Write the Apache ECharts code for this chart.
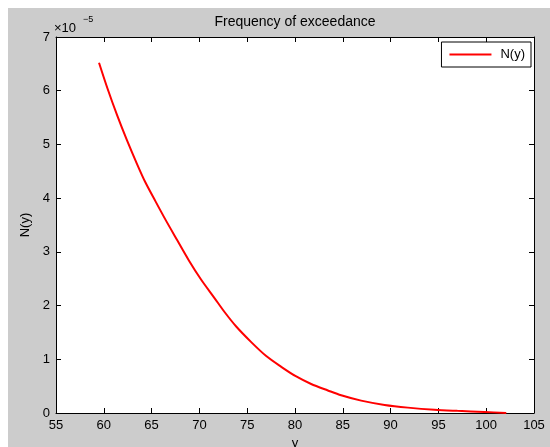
<!DOCTYPE html>
<html><head><meta charset="utf-8">
<script src="https://cdn.jsdelivr.net/npm/echarts@6/dist/echarts.min.js"></script>
<style>
html,body{margin:0;padding:0;background:#ffffff;width:550px;height:447px;overflow:hidden}
#c{position:absolute;left:8px;top:8px;width:542px;height:439px;background:#cccccc}
</style>
</head><body><div id="c"></div>
<script>
// Data (y-values in units of 1e-5)
const titleText = 'Frequency of exceedance';
const seriesName = 'N(y)';
const xAxisName = 'y';
const yAxisName = 'N(y)';
const yExponent = '−5';
const xTickLabels = [55, 60, 65, 70, 75, 80, 85, 90, 95, 100, 105];
const yTickLabels = [0, 1, 2, 3, 4, 5, 6, 7];
const yValuesX = [59.5, 60.35, 61.4, 62.44, 63.49, 64.36, 65.41, 66.45, 67.67, 68.9, 70.19, 71.58, 72.63, 73.85, 75.42, 76.99, 78.56, 80.13, 81.69, 83.44, 84.83, 86.92, 89.37, 91.81, 94.6, 96.98, 99.82, 102.1];
const nValues  = [6.52, 6.06, 5.54, 5.07, 4.63, 4.29, 3.94, 3.60, 3.22, 2.84, 2.48, 2.14, 1.88, 1.61, 1.32, 1.06, 0.86, 0.68, 0.54, 0.42, 0.33, 0.23, 0.15, 0.10, 0.06, 0.04, 0.02, 0.0];

const FONT = 'Liberation Sans';
const xMin = xTickLabels[0], xMax = xTickLabels[xTickLabels.length - 1], xInt = xTickLabels[1] - xTickLabels[0];
const yMin = yTickLabels[0], yMax = yTickLabels[yTickLabels.length - 1], yInt = yTickLabels[1] - yTickLabels[0];

const chart = echarts.init(document.getElementById('c'), null, {renderer: 'canvas'});
const axisCommon = {
  axisLine: {show: true, onZero: false, lineStyle: {color: '#000', width: 1}},
  axisTick: {show: true, inside: true, length: 5, lineStyle: {color: '#000'}},
  splitLine: {show: false}
};
chart.setOption({
  animation: false,
  backgroundColor: '#cccccc',
  textStyle: {fontFamily: FONT},
  grid: {left: 48, top: 29, right: 16, bottom: 34, show: true, backgroundColor: '#ffffff', borderWidth: 0,
         containLabel: false, outerBoundsMode: 'none'},
  graphic: [
    {type: 'text', x: 287, y: 14, style: {text: titleText, fontFamily: FONT, fontSize: 14, fill: '#000', textAlign: 'center', textVerticalAlign: 'middle'}},
    {type: 'text', x: 46, y: 20, style: {text: '×10', fontFamily: FONT, fontSize: 13, fill: '#000', textAlign: 'left', textVerticalAlign: 'middle'}},
    {type: 'text', x: 75, y: 12, style: {text: yExponent, fontFamily: FONT, fontSize: 9, fill: '#000', textAlign: 'left', textVerticalAlign: 'middle'}}
  ],
  legend: {
    data: [{name: seriesName, icon: 'rect'}], right: 19, top: 34, orient: 'horizontal',
    backgroundColor: '#ffffff', borderColor: '#000', borderWidth: 1, borderRadius: 0,
    padding: [6, 6, 6, 8], itemWidth: 42, itemHeight: 2, itemGap: 5,
    textStyle: {fontFamily: FONT, fontSize: 13, color: '#000', padding: [0, 0, 0, 4]}
  },
  xAxis: [
    Object.assign({type: 'value', position: 'bottom', min: xMin, max: xMax, interval: xInt,
      name: xAxisName, nameLocation: 'middle', nameGap: 22,
      nameTextStyle: {fontFamily: FONT, fontSize: 13, color: '#000'},
      axisLabel: {show: true, margin: 6, fontFamily: FONT, fontSize: 13, color: '#000'}}, axisCommon),
    Object.assign({type: 'value', position: 'top', min: xMin, max: xMax, interval: xInt,
      axisLabel: {show: false}}, axisCommon)
  ],
  yAxis: [
    Object.assign({type: 'value', position: 'left', min: yMin, max: yMax, interval: yInt,
      name: yAxisName, nameLocation: 'middle', nameGap: 17, nameRotate: 90,
      nameTextStyle: {fontFamily: FONT, fontSize: 13, color: '#000'},
      axisLabel: {show: true, margin: 6, fontFamily: FONT, fontSize: 13, color: '#000'}}, axisCommon),
    Object.assign({type: 'value', position: 'right', min: yMin, max: yMax, interval: yInt,
      axisLabel: {show: false}}, axisCommon)
  ],
  series: [{
    name: seriesName, type: 'line', xAxisIndex: 0, yAxisIndex: 0,
    data: yValuesX.map((x, i) => [x, nValues[i]]),
    symbol: 'none', smooth: 0.3,
    lineStyle: {color: '#ff0000', width: 2}, itemStyle: {color: '#ff0000'}
  }]
});
</script>
</body></html>
